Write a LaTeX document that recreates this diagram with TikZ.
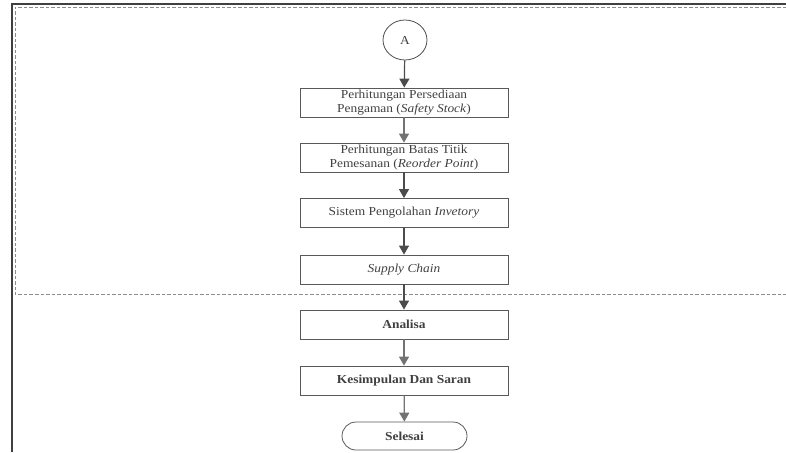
\documentclass[tikz,border=0pt]{standalone}
\usepackage{fontspec}
\setmainfont[FakeStretch=1.1]{Liberation Serif}
\usetikzlibrary{arrows.meta,shapes.geometric}
\begin{document}
\begin{tikzpicture}[x=1pt,y=-1pt,
  txt/.style={text=black!75},
  fnt/.style={font=\fontsize{12.2}{13.6}\selectfont},
  procbox/.style={draw=black!65, line width=0.8pt, minimum width=208pt, minimum height=29pt, inner sep=0pt, align=center, fnt, txt},
  conn/.style={draw=black!70, line width=1.2pt, -{Triangle[width=10pt,length=9pt]}},
  connlight/.style={draw=black!55, line width=1.2pt, -{Triangle[width=10pt,length=9pt]}},
  frame/.style={draw=black!75, line width=2.5pt},
  dashframe/.style={draw=black!45, line width=0.8pt, dash pattern=on 3.5pt off 2pt}
]
\useasboundingbox (0,0) rectangle (786,452);
\draw[frame] (12,452) -- (12,4) -- (786,4);
\draw[dashframe] (786,7) -- (15,7) -- (15,294) -- (786,294);

\node[draw=black!70, line width=0.8pt, ellipse, minimum width=44pt, minimum height=40pt, inner sep=0pt, fnt, txt] (a) at (405,40) {A};
\node[procbox] (b1) at (404,102.5) {Perhitungan Persediaan\\Pengaman (\textit{Safety Stock})};
\node[procbox] (b2) at (404,157.5) {Perhitungan Batas Titik\\Pemesanan (\textit{Reorder Point})};
\node[procbox] (b3) at (404,213) {Sistem Pengolahan \textit{Invetory}};
\node[procbox] (b4) at (404,269.5) {\textit{Supply Chain}};
\node[procbox, font=\fontsize{12.2}{13.6}\selectfont\bfseries] (b5) at (404,324.5) {Analisa};
\node[procbox, font=\fontsize{12.2}{13.6}\selectfont\bfseries] (b6) at (404,380.5) {Kesimpulan Dan Saran};
\node[draw=black!65, line width=0.8pt, rounded corners=14pt, minimum width=125pt, minimum height=28pt, inner sep=0pt, font=\fontsize{12.2}{13.6}\selectfont\bfseries, txt] (end) at (404.5,436) {Selesai};

\draw[conn] (a) -- (b1);
\draw[connlight] (b1) -- (b2);
\draw[conn] (b2) -- (b3);
\draw[conn] (b3) -- (b4);
\draw[conn] (b4) -- (b5);
\draw[connlight] (b5) -- (b6);
\draw[connlight] (b6) -- (end);
\end{tikzpicture}
\end{document}
